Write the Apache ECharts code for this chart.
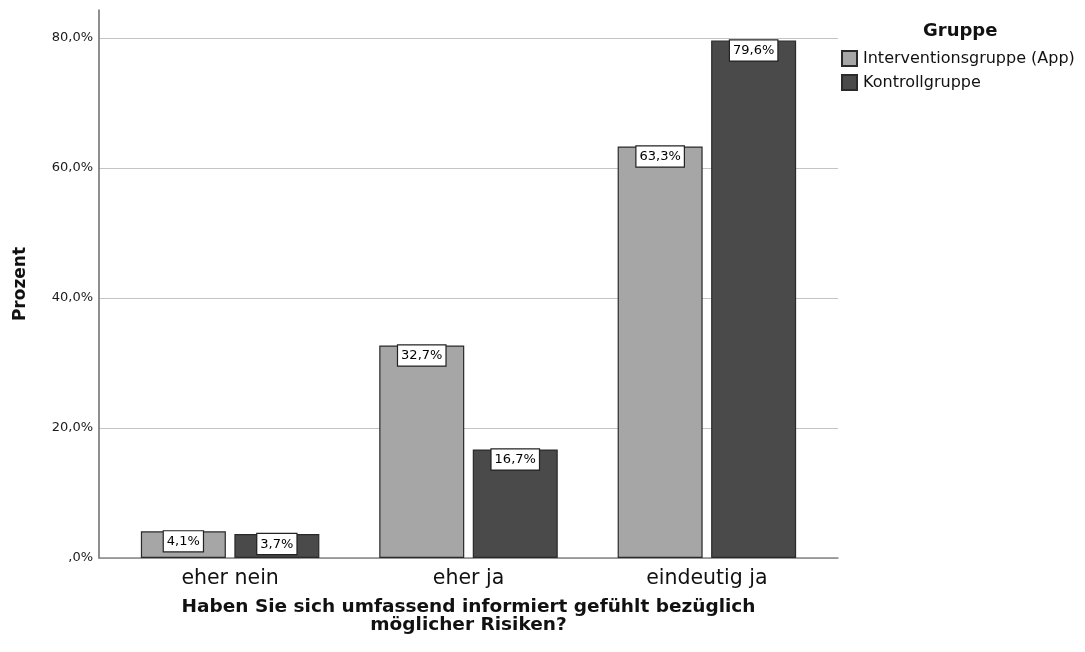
<!DOCTYPE html>
<html>
<head>
<meta charset="utf-8">
<script src="https://cdn.jsdelivr.net/npm/echarts@6/dist/echarts.min.js"></script>
<style>
  html, body { margin: 0; padding: 0; background: #fff; }
  #chart { width: 1085px; height: 652px; }
</style>
</head>
<body>
<div id="chart"></div>
<script>
// Answer categories and percentages per group
const categories = ['eher nein', 'eher ja', 'eindeutig ja'];
const seriesNames = ['Interventionsgruppe (App)', 'Kontrollgruppe'];
const interventionValues = [4.1, 32.7, 63.3];
const controlValues = [3.7, 16.7, 79.6];
const yTickValues = [0, 20, 40, 60, 80];
const yTickLabels = [',0%', '20,0%', '40,0%', '60,0%', '80,0%'];
const categoryPositions = [0, 1, 2];

const FONT = 'DejaVu Sans';
const pct = v => v.toFixed(1).replace('.', ',') + '%';

const toPoints = vals => vals.map((v, i) => [categoryPositions[i], v]);

const barLabel = {
  show: true,
  position: 'insideTop',
  distance: 0,
  formatter: p => pct(p.value[1]),
  fontFamily: FONT,
  fontSize: 13,
  color: '#000',
  backgroundColor: '#fff',
  borderColor: '#222',
  borderWidth: 1.2,
  padding: [4, 3, 3, 3]
};

const chart = echarts.init(document.getElementById('chart'), null, { renderer: 'canvas' });

chart.setOption({
  animation: false,
  backgroundColor: '#fff',
  textStyle: { fontFamily: FONT },
  title: {
    text: 'Gruppe',
    left: 918,
    top: 17,
    textStyle: { fontFamily: FONT, fontWeight: 'bold', fontSize: 18, color: '#111' }
  },
  legend: {
    orient: 'vertical',
    left: 836,
    top: 45,
    icon: 'rect',
    itemWidth: 15,
    itemHeight: 15,
    itemGap: 7,
    data: seriesNames,
    textStyle: { fontFamily: FONT, fontSize: 16, color: '#111', padding: [0, 0, 0, 1] }
  },
  grid: { left: 99, right: 247, top: 10, bottom: 94, containLabel: false },
  xAxis: {
    type: 'value',
    min: -0.55,
    max: 2.55,
    name: 'Haben Sie sich umfassend informiert gefühlt bezüglich\nmöglicher Risiken?',
    nameLocation: 'middle',
    nameGap: 40,
    nameTextStyle: { fontFamily: FONT, fontWeight: 'bold', fontSize: 18.5, color: '#111', lineHeight: 18 },
    axisLine: { show: true, lineStyle: { color: '#888', width: 1.5 } },
    axisTick: { show: false, customValues: categoryPositions },
    splitLine: { show: false },
    axisLabel: {
      customValues: categoryPositions,
      formatter: v => categories[Math.round(v)],
      fontFamily: FONT,
      fontSize: 20.5,
      color: '#111',
      margin: 10
    }
  },
  yAxis: {
    type: 'value',
    min: 0,
    max: 84.3,
    name: 'Prozent',
    nameLocation: 'middle',
    nameGap: 70,
    nameTextStyle: { fontFamily: FONT, fontWeight: 'bold', fontSize: 17, color: '#111' },
    axisLine: { show: true, onZero: false, lineStyle: { color: '#6a6a6a', width: 1.5 } },
    axisTick: { show: false, customValues: yTickValues },
    splitLine: { show: true, customValues: yTickValues, lineStyle: { color: '#c4c4c4', width: 1.2 } },
    axisLabel: {
      customValues: yTickValues,
      formatter: v => yTickLabels[yTickValues.indexOf(v)],
      fontFamily: FONT,
      fontSize: 13,
      color: '#1a1a1a',
      margin: 6
    }
  },
  series: [
    {
      name: seriesNames[0],
      type: 'bar',
      barWidth: 85,
      barGap: '10%',
      data: toPoints(interventionValues),
      itemStyle: { color: '#a6a6a6', borderColor: '#2a2a2a', borderWidth: 1.2 },
      label: barLabel
    },
    {
      name: seriesNames[1],
      type: 'bar',
      barWidth: 85,
      barGap: '10%',
      data: toPoints(controlValues),
      itemStyle: { color: '#4a4a4a', borderColor: '#2a2a2a', borderWidth: 1.2 },
      label: barLabel
    }
  ]
});
</script>
</body>
</html>
